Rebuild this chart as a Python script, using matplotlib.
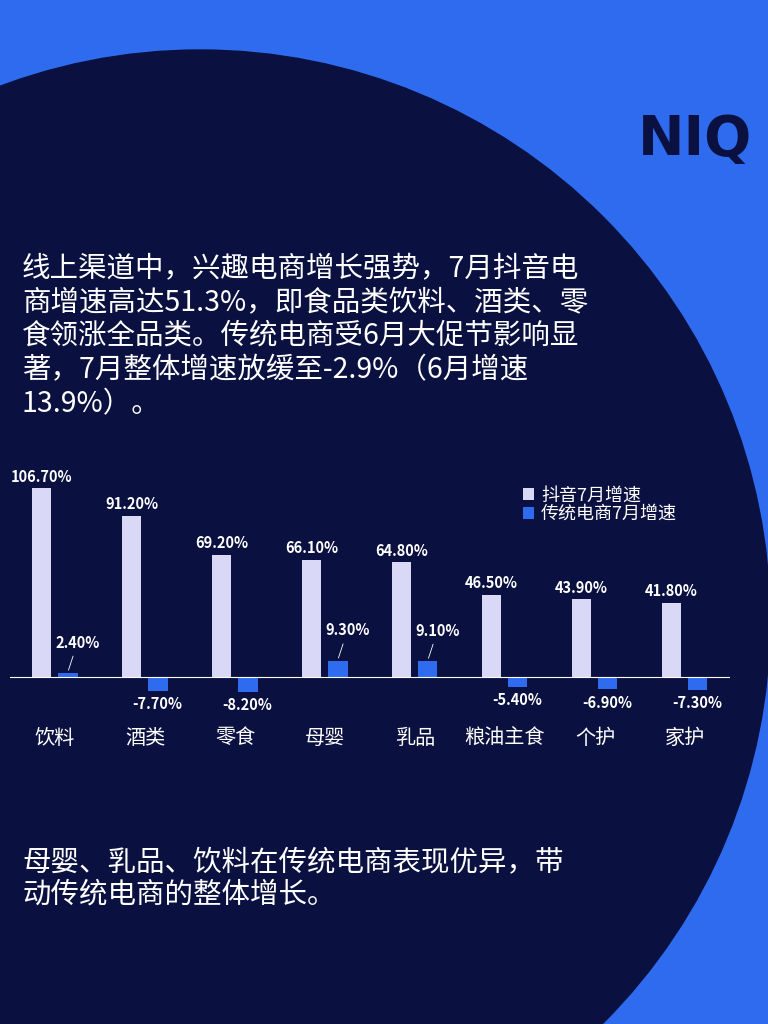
import matplotlib
matplotlib.use("Agg")
import matplotlib.pyplot as plt
from matplotlib.patches import Circle
import numpy as np

plt.rcParams['font.family'] = ['Noto Sans CJK SC', 'DejaVu Sans']

categories = ["饮料", "酒类", "零食", "母婴", "乳品", "粮油主食", "个护", "家护"]
douyin = [106.7, 91.2, 69.2, 66.1, 64.8, 46.5, 43.9, 41.8]
trad = [2.4, -7.7, -8.2, 9.3, 9.1, -5.4, -6.9, -7.3]
series_names = ["抖音7月增速", "传统电商7月增速"]

BLUE = "#2F6BEF"
NAVY = "#0A1140"
LIGHT = "#D9D9F7"

W, H = 768, 1024
fig = plt.figure(figsize=(W/100, H/100), dpi=100)
fig.patch.set_facecolor(BLUE)
bg = fig.add_axes([0, 0, 1, 1])
bg.set_xlim(0, W); bg.set_ylim(H, 0); bg.axis('off')
bg.add_patch(Circle((200, 620), 570, color=NAVY, zorder=0))
bg.text(752, 140, "NIQ", color=NAVY, fontsize=40, fontweight='bold',
        ha='right', va='center', family='DejaVu Sans')

para = ["线上渠道中，兴趣电商增长强势，7月抖音电",
        "商增速高达51.3%，即食品类饮料、酒类、零",
        "食领涨全品类。传统电商受6月大促节影响显",
        "著，7月整体增速放缓至-2.9%（6月增速",
        "13.9%）。"]
for i, t in enumerate(para):
    bg.text(22, 268 + i*34, t, color='white', fontsize=20.5, va='center', ha='left')
para2 = ["母婴、乳品、饮料在传统电商表现优异，带", "动传统电商的整体增长。"]
for i, t in enumerate(para2):
    bg.text(22, 862 + i*33, t, color='white', fontsize=20.5, va='center', ha='left')

px = 1.77
top_px, bot_px = 470, 720
ax = fig.add_axes([10/W, 1-bot_px/H, 720/W, (bot_px-top_px)/H])
ax.set_xlim(-0.5, 7.5)
ax.set_ylim(-(bot_px-677)/px, (677-top_px)/px)
ax.axis('off')
ax.patch.set_alpha(0)
x = np.arange(len(categories))
ax.bar(x-0.15, douyin, width=0.22, color=LIGHT, label=series_names[0])
ax.bar(x+0.14, trad, width=0.22, color=BLUE, label=series_names[1])
ax.axhline(0, color='white', lw=0.8)

for i, v in enumerate(douyin):
    ax.text(i-0.15, v+2, f"{v:.2f}%", color='white', fontsize=10.5, fontweight='bold',
            ha='center', va='bottom')
for i, v in enumerate(trad):
    if v < 0:
        ax.text(i+0.14, v-3, f"{v:.2f}%", color='white', fontsize=10.5, fontweight='bold',
                ha='center', va='top')
    else:
        ax.annotate(f"{v:.2f}%", xy=(i+0.14, v), xytext=(i+0.25, v+17),
                    color='white', fontsize=10.5, fontweight='bold', ha='center', va='center',
                    arrowprops=dict(arrowstyle='-', color='white', lw=0.6))
for i, c in enumerate(categories):
    ax.text(i, -(738-677)/px, c, color='white', fontsize=14.5, ha='center', va='center')

ax.legend(loc='upper left', bbox_to_anchor=(0.69, 1.0), frameon=False,
          fontsize=13, handlelength=0.6, handleheight=0.6, handletextpad=0.4,
          labelspacing=0.05, labelcolor='white')

fig.savefig("out.png", dpi=100, facecolor=BLUE)
